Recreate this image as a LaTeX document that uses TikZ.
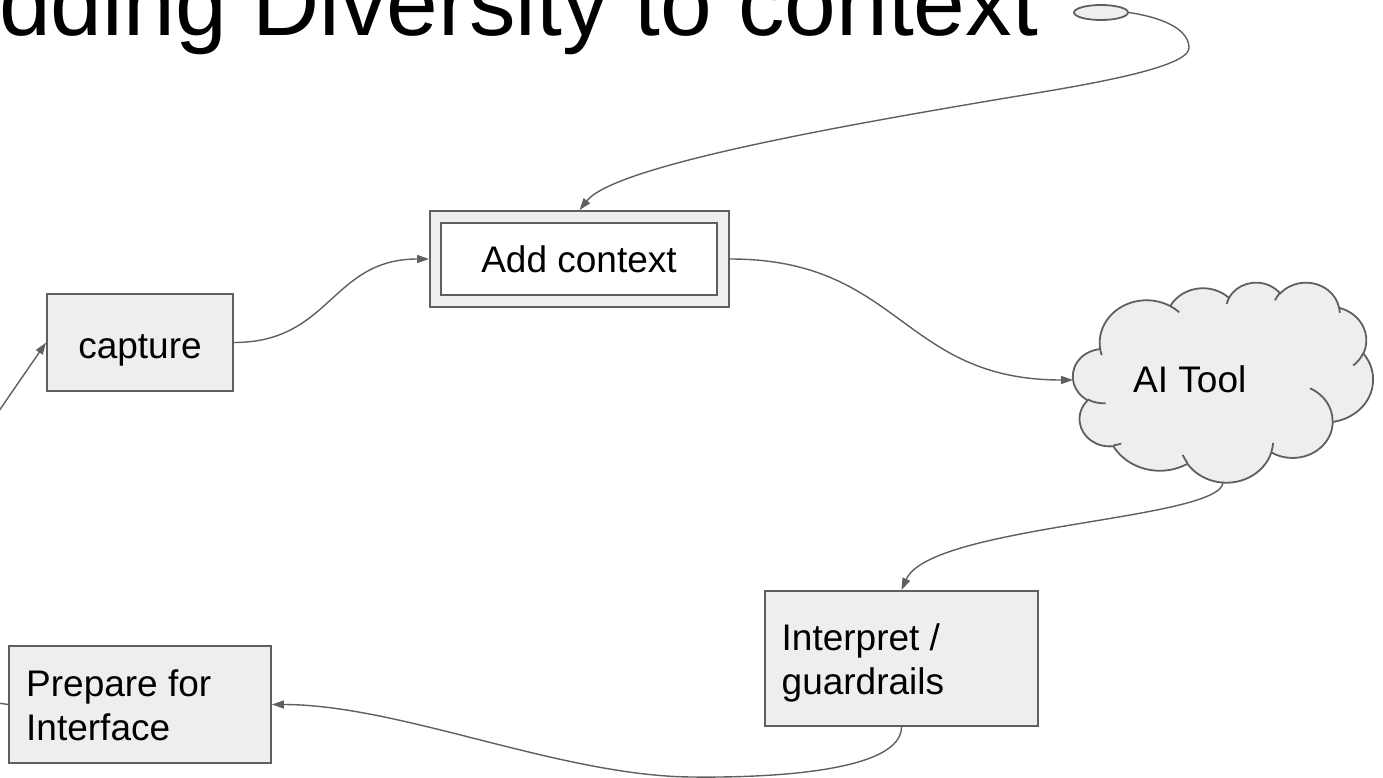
\documentclass[tikz,border=0pt]{standalone}
\usepackage{fontspec}
\setmainfont{Liberation Sans}
\usetikzlibrary{arrows.meta,shapes.geometric}
\definecolor{ln}{HTML}{5F5F5F}
\definecolor{fl}{HTML}{EEEEEE}
\newcommand\cdelta[4]{(atan2(#1*sin(#3+#4),#2*cos(#3+#4))-atan2(#1*sin(#3),#2*cos(#3))-360*round((atan2(#1*sin(#3+#4),#2*cos(#3+#4))-atan2(#1*sin(#3),#2*cos(#3))-(#4))/360))}
\newcommand\carc[4]{arc[x radius=#1, y radius=#2, start angle={atan2(#1*sin(#3),#2*cos(#3))}, delta angle={\cdelta{#1}{#2}{#3}{#4}}]}
\begin{document}
\begin{tikzpicture}[x=1pt,y=-1pt,
  box/.style={draw=ln, fill=fl, line width=1.8pt, inner sep=0pt},
  conn/.style={draw=ln, line width=1.4pt, -{Triangle[length=12pt,width=8pt]}},
  plain/.style={draw=ln, line width=1.4pt},
  lbl/.style={inner sep=0pt, font=\fontsize{37}{44}\selectfont},
  cloudline/.style={draw=ln, line width=1.8pt, line join=round}
  ]
\useasboundingbox (0,0) rectangle (1383,778);

% title
\node[anchor=base west, inner sep=0pt, font=\fontsize{93}{100}\selectfont] (title) at (-63,36) {Adding Diversity to context};

% cloud
\begin{scope}[shift={(1073,282)}]
\begin{scope}[x=0.69444pt, y=-0.46296pt]
\path[cloudline, fill=fl] (39.00,143.70)
  \carc{67.53}{91.90}{-190.4875}{123.7805}
  \carc{53.33}{72.67}{-144.1024}{89.9452}
  \carc{43.65}{59.45}{-145.8079}{99.7230}
  \carc{48.57}{65.95}{-130.9861}{117.2417}
  \carc{53.33}{72.73}{-78.7089}{109.0269}
  \carc{67.75}{92.20}{-46.2673}{130.2690}
  \carc{57.85}{78.67}{0.6250}{114.0333}
  \carc{67.52}{92.15}{22.4516}{115.1726}
  \carc{77.20}{105.43}{66.2426}{75.7110}
  \carc{43.60}{59.18}{-274.9421}{146.7356}
  \carc{43.45}{59.45}{-246.8285}{152.5189}
  -- cycle;
\path[cloudline]
  (46.93,261.77) \carc{43.45}{59.45}{86.7420}{26.4295}
  (69.28,348.99) \carc{43.60}{59.18}{73.6105}{11.4475}
  (164.78,390.90) \carc{67.52}{92.15}{137.6242}{14.0811}
  (288.27,347.51) \carc{67.52}{92.15}{6.4533}{15.9984}
  (341.29,229.54) \carc{57.85}{78.67}{-70.2924}{70.9174}
  (417.98,153.54) \carc{53.33}{72.73}{30.3180}{27.7515}
  (383.24,54.26) \carc{48.57}{65.95}{-13.7443}{14.8589}
  (290.78,39.52) \carc{48.57}{65.95}{-149.1815}{18.1954}
  (221.41,47.20) \carc{43.65}{59.45}{-163.4943}{17.6864}
  (140.00,51.92) \carc{67.53}{91.90}{-66.7070}{12.3194}
  (41.27,157.89) \carc{67.53}{91.90}{157.6544}{11.8582};
\end{scope}
\end{scope}
\node[lbl, anchor=base west] (ai) at (1133,392) {AI Tool};
\coordinate (aiL) at (1073,380);
\coordinate (aiB) at (1223,482);

% boxes
\node[box, minimum width=186pt, minimum height=97pt] (cap) at (140,342.5) {};
\node[lbl, anchor=base] (capt) at (140,358) {capture};
\node[box, minimum width=299pt, minimum height=96pt] (ac) at (579.5,259) {};
\node[box, fill=white, minimum width=276pt, minimum height=72pt] (aci) at (579,259) {};
\node[lbl, anchor=base] (act) at (579,272) {Add context};
\node[box, minimum width=273pt, minimum height=135pt] (ip) at (901.5,658.5) {};
\node[lbl, anchor=base west] (ipt) at (781.5,650) {\vtop{\hbox{Interpret /}\hbox{guardrails}}};
\node[box, minimum width=262pt, minimum height=117pt] (pr) at (140,704.5) {};
\node[lbl, anchor=base west] (prt) at (26,696) {\vtop{\hbox{Prepare for}\hbox{Interface}}};
\node[ellipse, draw=ln, fill=fl, line width=1.8pt, minimum width=54pt, minimum height=15pt, inner sep=0pt] (el) at (1101,12.5) {};

% connectors
\coordinate (inL) at (-8,421);
\draw[conn] (inL) -- (cap.west);
\draw[conn] (cap.east) .. controls (331,342.5) and (331,259) .. (ac.west);
\draw[conn] (ac.east) .. controls (901,259) and (901,380) .. (aiL);
\draw[conn] (el.east) .. controls (1165,18) and (1189,30) .. (1189,48)
  .. controls (1189,70) and (1060,89) .. (1000,99)
  .. controls (850,124.5) and (615,165) .. (ac.north);
\draw[conn] (aiB) .. controls (1223,520) and (930,525) .. (ip.north);
\draw[conn] (ip.south) .. controls (901.5,770) and (780,778) .. (692,777)
  .. controls (560,776) and (400,704.5) .. (pr.east);
\coordinate (outL) at (-15,701);
\draw[plain] (pr.west) -- (outL);
\end{tikzpicture}
\end{document}
